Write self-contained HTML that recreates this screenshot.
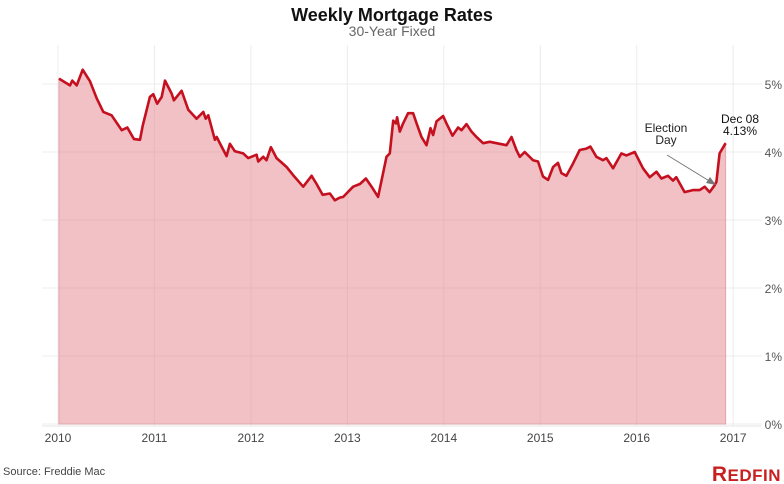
<!DOCTYPE html>
<html><head><meta charset="utf-8"><style>
body{margin:0;background:#fff;width:784px;height:484px;overflow:hidden;font-family:"Liberation Sans",Arial,sans-serif}
svg{display:block}
</style></head><body>
<svg id="chart" width="784" height="484" xmlns="http://www.w3.org/2000/svg">
<text x="392" y="21" text-anchor="middle" font-size="18" font-weight="bold" fill="#111">Weekly Mortgage Rates</text>
<text x="392" y="36" text-anchor="middle" font-size="14" fill="#666">30-Year Fixed</text>
<g id="grid"></g>
<g id="area"></g>
<g id="axes"></g>
<g>
<text x="666" y="132" text-anchor="middle" font-size="12" fill="#222">Election</text>
<text x="666" y="144" text-anchor="middle" font-size="12" fill="#222">Day</text>
<line x1="667" y1="155" x2="711" y2="182" stroke="#777" stroke-width="1"/>
<polygon points="716,185 706,183 710,177" fill="#777"/>
</g>
<g>
<text x="740" y="123" text-anchor="middle" font-size="12" fill="#111">Dec 08</text>
<text x="740" y="135" text-anchor="middle" font-size="12" fill="#111">4.13%</text>
</g>
<text x="3" y="475" font-size="11" fill="#444">Source: Freddie Mac</text>
<text x="781" y="481" text-anchor="end" font-size="21" font-weight="bold" fill="#c82021" letter-spacing="0.5">R<tspan font-size="17">EDFIN</tspan></text>
</svg>
<script>
const dates=[2010.01,2010.124,2010.148,2010.194,2010.256,2010.332,2010.401,2010.470,2010.556,2010.660,2010.718,2010.788,2010.850,2010.877,2010.953,2010.988,2011.029,2011.075,2011.109,2011.178,2011.202,2011.282,2011.351,2011.437,2011.506,2011.531,2011.558,2011.627,2011.645,2011.696,2011.748,2011.782,2011.834,2011.920,2011.972,2012.059,2012.076,2012.128,2012.162,2012.207,2012.266,2012.370,2012.438,2012.542,2012.629,2012.681,2012.743,2012.819,2012.870,2012.922,2012.957,2013.060,2013.130,2013.192,2013.251,2013.319,2013.406,2013.440,2013.475,2013.503,2013.516,2013.544,2013.578,2013.630,2013.682,2013.723,2013.769,2013.821,2013.862,2013.889,2013.924,2013.993,2014.028,2014.090,2014.148,2014.183,2014.235,2014.287,2014.339,2014.407,2014.477,2014.546,2014.650,2014.702,2014.753,2014.788,2014.839,2014.925,2014.977,2015.029,2015.081,2015.133,2015.184,2015.219,2015.271,2015.340,2015.409,2015.478,2015.520,2015.582,2015.651,2015.686,2015.755,2015.841,2015.893,2015.979,2016.065,2016.135,2016.204,2016.256,2016.325,2016.376,2016.411,2016.497,2016.583,2016.653,2016.705,2016.756,2016.808,2016.826,2016.860,2016.922];
const rates=[5.08,4.98,5.05,4.98,5.21,5.04,4.79,4.59,4.54,4.32,4.36,4.19,4.18,4.38,4.81,4.85,4.71,4.81,5.05,4.86,4.76,4.90,4.62,4.49,4.59,4.49,4.54,4.18,4.22,4.08,3.94,4.12,4.01,3.98,3.91,3.96,3.86,3.93,3.88,4.07,3.91,3.78,3.66,3.49,3.65,3.53,3.37,3.39,3.29,3.33,3.34,3.49,3.53,3.61,3.49,3.34,3.93,3.98,4.46,4.42,4.51,4.30,4.42,4.57,4.57,4.40,4.22,4.10,4.35,4.25,4.45,4.53,4.42,4.24,4.36,4.32,4.41,4.30,4.22,4.13,4.15,4.13,4.10,4.22,4.03,3.93,4.00,3.88,3.86,3.64,3.59,3.78,3.84,3.69,3.65,3.83,4.03,4.05,4.08,3.93,3.88,3.91,3.76,3.98,3.95,4.00,3.76,3.63,3.71,3.61,3.65,3.58,3.63,3.41,3.44,3.44,3.49,3.41,3.51,3.56,3.98,4.13];
const yTicks=[0,1,2,3,4,5];
const xTicks=[2010,2011,2012,2013,2014,2015,2016,2017];
const NS="http://www.w3.org/2000/svg";
const X=d=>58+(d-2010)*96.45;
const Y=v=>424-v*68;
function mk(tag,attrs,parent){const e=document.createElementNS(NS,tag);for(const k in attrs)e.setAttribute(k,attrs[k]);parent.appendChild(e);return e;}
const grid=document.getElementById('grid'),axes=document.getElementById('axes'),area=document.getElementById('area');
yTicks.forEach(t=>{
 const l=mk('line',{x1:42,x2:762,y1:Y(t),y2:Y(t),stroke:'#ececec','stroke-width':1},grid);
 
 
 const tx=mk('text',{x:782,y:Y(t)+5,'text-anchor':'end','font-size':12,fill:'#555'},axes);
 tx.textContent=t+'%';
 
 
});
xTicks.forEach(t=>{
 const l=mk('line',{x1:X(t),x2:X(t),y1:45,y2:426,stroke:'#ececec','stroke-width':1},grid);
 
 
 const tx=mk('text',{x:X(t),y:442,'text-anchor':'middle','font-size':12,fill:'#444'},axes);
 tx.textContent=t;
 
 
});
const base=mk('line',{x1:42,x2:762,y1:426,y2:426,stroke:'#e4e4e4','stroke-width':1},axes);


let pts=dates.map((d,i)=>X(d).toFixed(1)+','+Y(rates[i]).toFixed(1));
const fill=mk('path',{d:'M'+X(dates[0])+','+Y(0)+' L'+pts.join(' L')+' L'+X(dates[dates.length-1])+','+Y(0)+'Z',fill:'#e27d86','fill-opacity':0.48,stroke:'#e3a5aa','stroke-width':1},area);


const line=mk('path',{d:'M'+pts.join(' L'),fill:'none',stroke:'#c5101f','stroke-width':2.6,'stroke-linejoin':'round'},area);


</script>
</body></html>
